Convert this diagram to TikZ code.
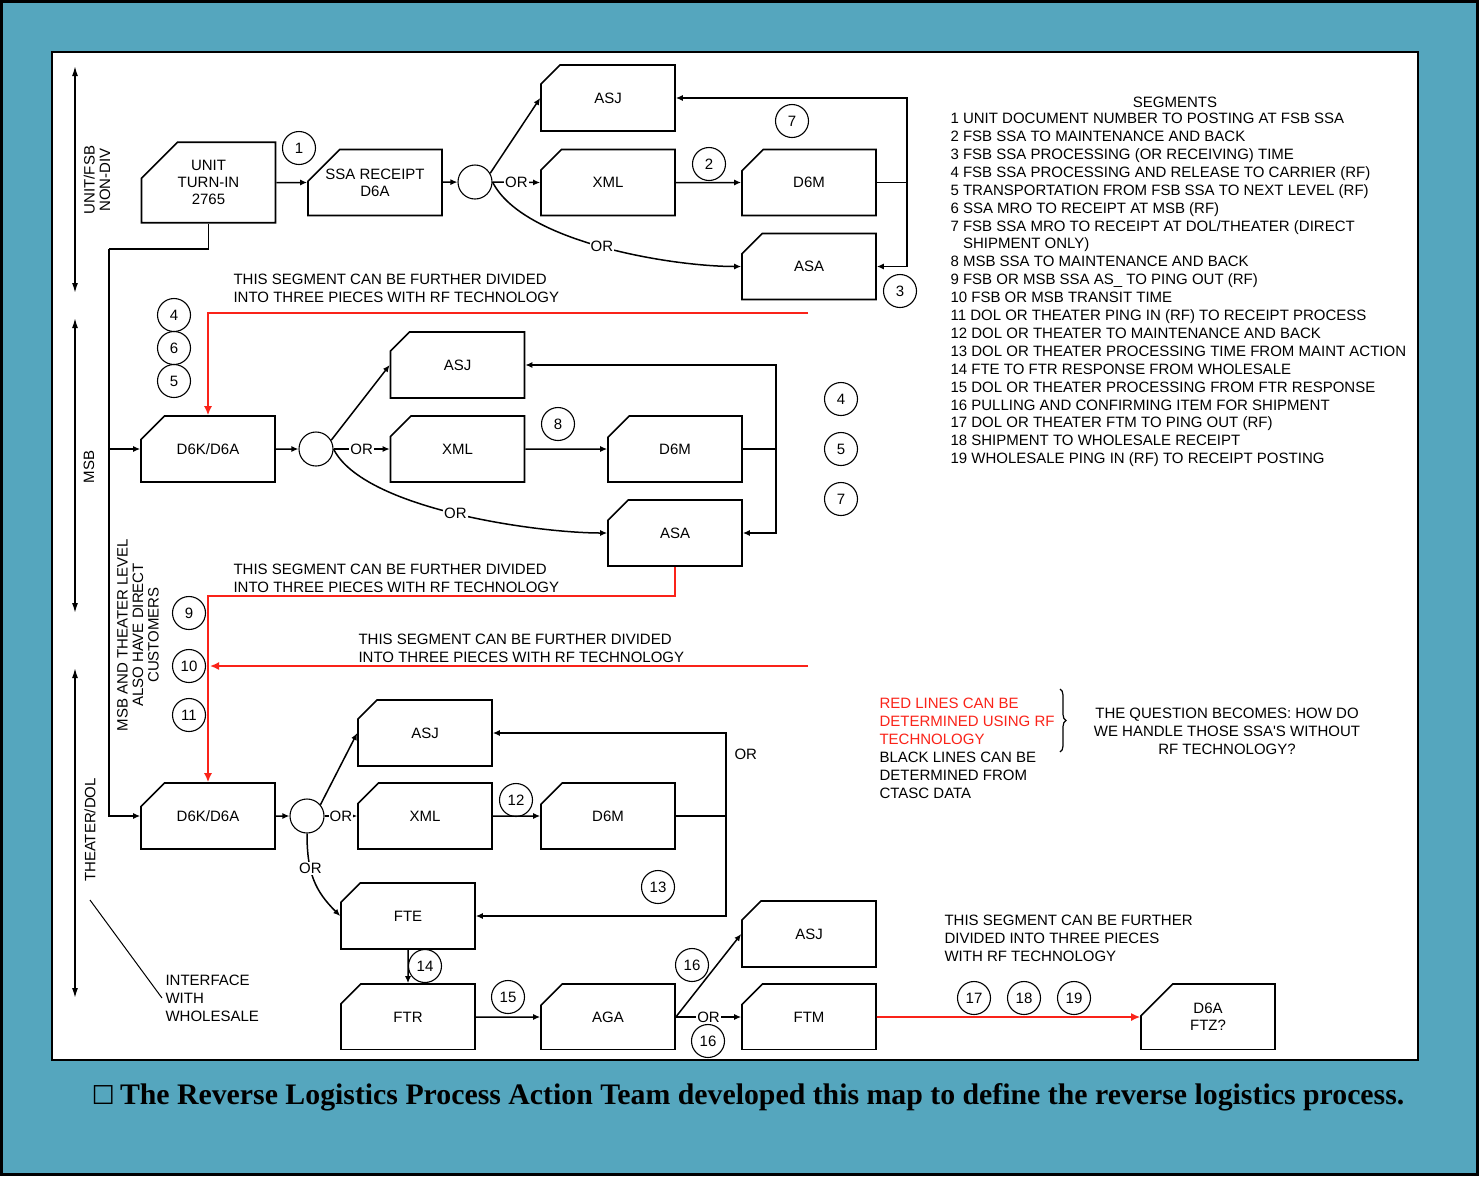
\documentclass[tikz,border=0pt]{standalone}
\usepackage{fontspec}
\setmainfont{Liberation Serif}
\newfontfamily\diagfont{Liberation Sans}
\newfontfamily\symfont{DejaVu Sans}
\usetikzlibrary{arrows.meta, shapes.misc, decorations.pathreplacing, positioning}

\definecolor{frameteal}{RGB}{85,166,190}
\definecolor{rfred}{RGB}{250,35,25}

\newcommand\diagtext{\diagfont\fontsize{15}{18}\selectfont}
\newcommand\cardtext{\diagfont\fontsize{15}{17}\selectfont}
\newcommand\legendtext{\diagfont\fontsize{15}{17.9}\selectfont}
\newcommand\axistext{\diagfont\fontsize{15}{15.5}\selectfont}
\newcommand\captiontext{\bfseries\fontsize{29.8}{32}\selectfont}

\tikzset{
    card/.style={draw, line width=1.6pt, fill=white, chamfered rectangle,
        chamfered rectangle corners=north west, chamfered rectangle xsep=18pt,
        chamfered rectangle ysep=18pt, minimum width=134pt, minimum height=66pt,
        inner sep=0pt, align=center, font=\cardtext},
    seg/.style={circle, draw, line width=1.1pt, minimum size=33pt, inner sep=0pt},
    junction/.style={circle, draw, line width=1.1pt, minimum size=34pt, inner sep=0pt},
    wire/.style={line width=1.5pt},
    flow/.style={line width=1.5pt, -{Latex[length=7pt, width=6pt]}},
    rfflow/.style={line width=1.6pt, draw=rfred, -{Latex[length=9pt, width=8pt]}},
    orlabel/.style={fill=white, inner sep=1pt},
    level/.style={line width=1.5pt, {Latex[length=10pt, width=6pt]}-{Latex[length=10pt, width=6pt]}},
}

\begin{document}
\begin{tikzpicture}[x=1pt, y=-1pt, every node/.style={font=\diagtext}]
    % Frame and white panel
    \fill[frameteal] (0,0) rectangle (1479,1176);
    \draw[line width=3pt] (1.5,1.5) rectangle (1477.5,1174.5);
    \draw[fill=white, line width=2.5pt] (52,52) rectangle (1418,1060);
    \begin{scope}
    \clip (53.5,53.5) rectangle (1416.5,1049);
    %
    % Level axes
    %
    \coordinate (unitaxtop) at (75,66);
    \coordinate (unitaxbot) at (75,293);
    \coordinate (msbaxtop) at (75,318);
    \coordinate (msbaxbot) at (75,613);
    \coordinate (thraxtop) at (75,668);
    \coordinate (thraxbot) at (75,998);
    \draw[level] (unitaxtop) -- (unitaxbot);
    \draw[level] (msbaxtop) -- (msbaxbot);
    \draw[level] (thraxtop) -- (thraxbot);
    \node[rotate=90, align=center, font=\axistext] (unitlbl) at (97,180) {UNIT/FSB\\NON-DIV};
    \node[rotate=90] (msblbl) at (89,467) {MSB};
    \node[rotate=90] (thrlbl) at (90,830) {THEATER/DOL};
    \node[rotate=90, align=center, font=\axistext] (directlbl) at (138,635) {MSB AND THEATER LEVEL\\ALSO HAVE DIRECT\\CUSTOMERS};
    %
    % Unit / FSB level
    %
    \node[card] (unit) at (208.5,182.5) {UNIT\\TURN-IN\\2765};
    \node[card] (ssarcpt) at (375,182.5) {SSA RECEIPT\\D6A};
    \node[junction] (j1) at (475,182) {};
    \node[card] (asj1) at (608,98) {ASJ};
    \node[card] (xml1) at (608,182.5) {XML};
    \node[card] (d6m1) at (809,182.5) {D6M};
    \node[card] (asa1) at (809,266.5) {ASA};
    \node[seg] (s1) at (299,148) {1};
    \node[seg] (s2) at (709,164) {2};
    \node[seg] (s7a) at (792,121) {7};
    \node[seg] (s3) at (900,291) {3};
    \coordinate (ret1) at (907,182.5);
    \draw[flow] (unit) -- (ssarcpt);
    \draw[flow] (ssarcpt) -- (j1);
    \draw[flow] (j1.30) -- (asj1.west);
    \draw[flow] (j1.east) -- node[orlabel] {OR} (xml1.west);
    \draw[flow] (j1.east) .. controls +(30,60) and +(-70,0) .. node[pos=0.5, orlabel] {OR} (asa1.west);
    \draw[flow] (xml1) -- (d6m1);
    \draw[wire] (d6m1.east) -- (ret1);
    \draw[flow] (ret1) |- (asj1.east);
    \draw[flow] (ret1) |- (asa1.east);
    % Turn-in bus down to the lower levels
    \coordinate (bustop) at (109,249);
    \coordinate (busmsb) at (109,449);
    \draw[wire] (unit.south) |- (bustop);
    \node[anchor=west, align=left] (note1) at (230,288) {THIS SEGMENT CAN BE FURTHER DIVIDED\\INTO THREE PIECES WITH RF TECHNOLOGY};
    %
    % MSB level
    %
    \node[card] (d6k2) at (208,449) {D6K/D6A};
    \node[junction] (j2) at (316,449) {};
    \node[card] (asj2) at (457.5,365) {ASJ};
    \node[card] (xml2) at (457.5,449) {XML};
    \node[card] (d6m2) at (675,449) {D6M};
    \node[card] (asa2) at (675,533) {ASA};
    \node[seg] (s4a) at (174,315) {4};
    \node[seg] (s6a) at (174,348) {6};
    \node[seg] (s5a) at (174,381) {5};
    \node[seg] (s8) at (558,424) {8};
    \node[seg] (s4b) at (841,399) {4};
    \node[seg] (s5b) at (841,449) {5};
    \node[seg] (s7b) at (841,499) {7};
    \coordinate (ret2) at (776,449);
    \coordinate (rf1start) at (808,313);
    \draw[rfflow] (rf1start) -| (d6k2.north);
    \draw[flow] (busmsb) -- (d6k2.west);
    \draw[flow] (d6k2) -- (j2);
    \draw[flow] (j2.30) -- (asj2.west);
    \draw[flow] (j2.east) -- node[orlabel] {OR} (xml2.west);
    \draw[flow] (j2.east) .. controls +(30,60) and +(-70,0) .. node[pos=0.5, orlabel] {OR} (asa2.west);
    \draw[flow] (xml2) -- (d6m2);
    \draw[wire] (d6m2.east) -- (ret2);
    \draw[flow] (ret2) |- (asj2.east);
    \draw[flow] (ret2) |- (asa2.east);
    % Red segments from MSB to theater
    \coordinate (rfcorner) at (208,596);
    \coordinate (rf3start) at (808,666);
    \coordinate (rf3end) at (210,666);
    \node[anchor=west, align=left] (note2) at (230,578) {THIS SEGMENT CAN BE FURTHER DIVIDED\\INTO THREE PIECES WITH RF TECHNOLOGY};
    \node[anchor=west, align=left] (note3) at (355,648) {THIS SEGMENT CAN BE FURTHER DIVIDED\\INTO THREE PIECES WITH RF TECHNOLOGY};
    \node[seg] (s9) at (189,613) {9};
    \node[seg] (s10) at (189,666) {10};
    \node[seg] (s11) at (189,715) {11};
    %
    % Theater / DOL level
    %
    \node[card] (d6k3) at (208,816) {D6K/D6A};
    \node[junction] (j3) at (307,816) {};
    \node[card] (asj3) at (425,733) {ASJ};
    \node[card] (xml3) at (425,816) {XML};
    \node[card] (d6m3) at (608,816) {D6M};
    \node[card] (fte) at (408,916) {FTE};
    \node[card] (ftr) at (408,1017) {FTR};
    \node[card] (aga) at (608,1017) {AGA};
    \node[card] (asj4) at (809,934) {ASJ};
    \node[card] (ftm) at (809,1017) {FTM};
    \node[card] (d6aftz) at (1208,1017) {D6A\\FTZ?};
    \node[seg] (s12) at (516,800) {12};
    \node[seg] (s13) at (658,887) {13};
    \node[seg] (s14) at (425,966) {14};
    \node[seg] (s15) at (508,997) {15};
    \node[seg] (s16a) at (692,965) {16};
    \node[seg] (s17) at (974,998) {17};
    \node[seg] (s18) at (1024,998) {18};
    \node[seg] (s19) at (1074,998) {19};
    \coordinate (ret3) at (726,816);
    \draw[rfflow] (asa2.south) |- (rfcorner) -- (d6k3.north);
    \draw[rfflow] (rf3start) -- (rf3end);
    \draw[flow] (bustop) |- (d6k3.west);
    \draw[flow] (d6k3) -- (j3);
    \draw[flow] (j3.40) -- (asj3.west);
    \draw[flow] (j3.east) -- node[orlabel] {OR} (xml3.west);
    \draw[flow] (j3.south) .. controls +(0,40) and +(-25,-25) .. node[pos=0.35, orlabel] {OR} (fte.west);
    \draw[flow] (xml3) -- (d6m3);
    \draw[wire] (d6m3.east) -- (ret3);
    \draw[flow] (ret3) |- (asj3.east);
    \draw[flow] (ret3) |- (fte.east);
    \node[anchor=west] (orret) at (731,754) {OR};
    \draw[flow] (fte) -- (ftr);
    \draw[flow] (ftr) -- (aga);
    \draw[flow] (aga.east) -- (asj4.west);
    \draw[flow] (aga.east) -- node[orlabel] {OR} (ftm.west);
    \draw[rfflow] (ftm) -- (d6aftz);
    \node[anchor=west, align=left] (note4) at (941,938) {THIS SEGMENT CAN BE FURTHER\\DIVIDED INTO THREE PIECES\\WITH RF TECHNOLOGY};
    % Wholesale interface
    \coordinate (ifacept) at (90,900);
    \node[anchor=west, align=left] (iface) at (162,998) {INTERFACE\\WITH\\WHOLESALE};
    \draw[line width=1pt] (ifacept) -- (iface.west);
    %
    % Segment list and notes
    %
    \node (seghead) at (1175,102) {SEGMENTS};
    \node[anchor=west, align=left, font=\legendtext] (seglist) at (947,290) {%
        1 UNIT DOCUMENT NUMBER TO POSTING AT FSB SSA\\
        2 FSB SSA TO MAINTENANCE AND BACK\\
        3 FSB SSA PROCESSING (OR RECEIVING) TIME\\
        4 FSB SSA PROCESSING AND RELEASE TO CARRIER (RF)\\
        5 TRANSPORTATION FROM FSB SSA TO NEXT LEVEL (RF)\\
        6 SSA MRO TO RECEIPT AT MSB (RF)\\
        7 FSB SSA MRO TO RECEIPT AT DOL/THEATER (DIRECT\\
        \hspace*{12.5pt}SHIPMENT ONLY)\\
        8 MSB SSA TO MAINTENANCE AND BACK\\
        9 FSB OR MSB SSA AS\_ TO PING OUT (RF)\\
        10 FSB OR MSB TRANSIT TIME\\
        11 DOL OR THEATER PING IN (RF) TO RECEIPT PROCESS\\
        12 DOL OR THEATER TO MAINTENANCE AND BACK\\
        13 DOL OR THEATER PROCESSING TIME FROM MAINT ACTION\\
        14 FTE TO FTR RESPONSE FROM WHOLESALE\\
        15 DOL OR THEATER PROCESSING FROM FTR RESPONSE\\
        16 PULLING AND CONFIRMING ITEM FOR SHIPMENT\\
        17 DOL OR THEATER FTM TO PING OUT (RF)\\
        18 SHIPMENT TO WHOLESALE RECEIPT\\
        19 WHOLESALE PING IN (RF) TO RECEIPT POSTING};
    \node[anchor=west, align=left, text=rfred] (rednote) at (876,721) {RED LINES CAN BE\\DETERMINED USING RF\\TECHNOLOGY};
    \node[anchor=west, align=left] (blacknote) at (876,775) {BLACK LINES CAN BE\\DETERMINED FROM\\CTASC DATA};
    \coordinate (bracetop) at (1060,689);
    \coordinate (bracebot) at (1060,752);
    \draw[decorate, decoration={brace, amplitude=6pt}, line width=1.2pt] (bracetop) -- (bracebot);
    \node[align=center] (question) at (1227,731) {THE QUESTION BECOMES: HOW DO\\WE HANDLE THOSE SSA'S WITHOUT\\RF TECHNOLOGY?};
    \end{scope}
    % Segment circle below the OR branch, not clipped
    \node[seg] (s16b) at (708,1041) {16};
    % Caption
    \node[font=\captiontext] (caption) at (748,1097) {{\symfont\fontsize{26}{30}\selectfont ☐}\,The Reverse Logistics Process Action Team developed this map to define the reverse logistics process.};
\end{tikzpicture}
\end{document}
